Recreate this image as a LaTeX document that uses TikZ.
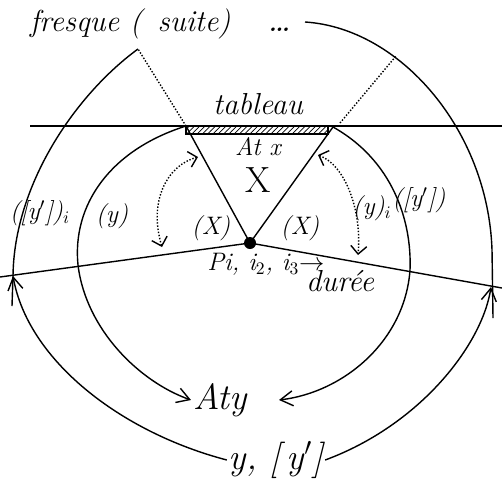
\documentclass[tikz,border=0pt]{standalone}
\usepackage{tikz}
\usetikzlibrary{arrows.meta, positioning, patterns}

\begin{document}
\begin{tikzpicture}[
  x=0.02cm, y=-0.02cm,
  every node/.style={font=\Large\itshape, inner sep=1pt},
  line/.style={thick},
  arr/.style={thick, -{Straight Barb[length=2.5mm, width=3mm]}},
  dotarr/.style={densely dotted, thick,
                 {Straight Barb[length=1.6mm]}-{Straight Barb[length=1.6mm]}},
  dots/.style={densely dotted, thick},
]
  \useasboundingbox (0,0) rectangle (502,484);

  % Points
  \coordinate (p) at (250,243);
  \coordinate (tl) at (186,126);
  \coordinate (tr) at (333,127);
  \coordinate (hl) at (30,126);
  \coordinate (hr) at (502,126);
  \coordinate (bl) at (0,277);
  \coordinate (br) at (502,288);
  \coordinate (ol) at (13,276);
  \coordinate (or) at (491,287);
  \coordinate (fs) at (138,49);
  \coordinate (ft) at (305,22);
  \coordinate (atyr) at (279,400);

  % Labels
  \node[font=\LARGE\itshape, anchor=west] (fresque) at (28,24) {fresque ( \,suite)\hspace{1.2em}{\huge\dots}};
  \node[font=\LARGE\itshape] (tableau) at (258,104) {tableau};
  \node (atx) at (258,147) {At x};
  \node[font=\huge] (bigx) at (258,180) {X};
  \node (xl) at (211,228) {(X)};
  \node (xr) at (300,228) {(X)};
  \node (yl) at (112,216) {(y)};
  \node (ypl) at (40,213) {([y$'$])$_i$};
  \node (yr) at (372,208) {(y)$_i$};
  \node (ypr) at (419,200) {([y$'$])};
  \node (pil) at (266,264) {Pi, i$_2$, i$_3$$\to$};
  \node[font=\LARGE\itshape] (duree) at (340,281) {durée};
  \node[font=\huge\itshape] (aty) at (220,400) {Aty};
  \node[font=\huge\itshape] (yyp) at (276,460) {y, [\,y$'$]};

  % Lines through the tableau and the point
  \draw[line] (hl) -- (hr);
  \draw[line, pattern=north east lines] (tl) rectangle (328,134);
  \draw[line] (tl) -- (p) -- (tr);
  \draw[line] (bl) -- (p) -- (br);
  \fill (p) circle (6);

  % Inner arcs
  \draw[arr] (tl) .. controls (110,150) and (72,205) .. (78,265)
             .. controls (86,330) and (140,382) .. (aty.west);
  \draw[arr] (tr) .. controls (392,160) and (412,220) .. (410,270)
             .. controls (405,340) and (345,392) .. (atyr);

  % Outer arcs
  \draw[line] (fs) .. controls (75,95) and (14,185) .. (ol) -- (12,306);
  \draw[line] (ft) .. controls (400,28) and (488,130) .. (492,250) -- (493,318);
  \draw[arr] (yyp.west) .. controls (120,432) and (28,360) .. (ol);
  \draw[arr] (yyp.east) .. controls (420,425) and (482,345) .. (or);

  % Dotted links
  \draw[dots] (tl) -- (fs);
  \draw[dots] (340,123) -- (396,56);
  \draw[dotarr] (162,247) .. controls (148,200) and (168,165) .. (198,157);
  \draw[dotarr] (318,155) .. controls (345,165) and (362,210) .. (358,255);
\end{tikzpicture}
\end{document}
